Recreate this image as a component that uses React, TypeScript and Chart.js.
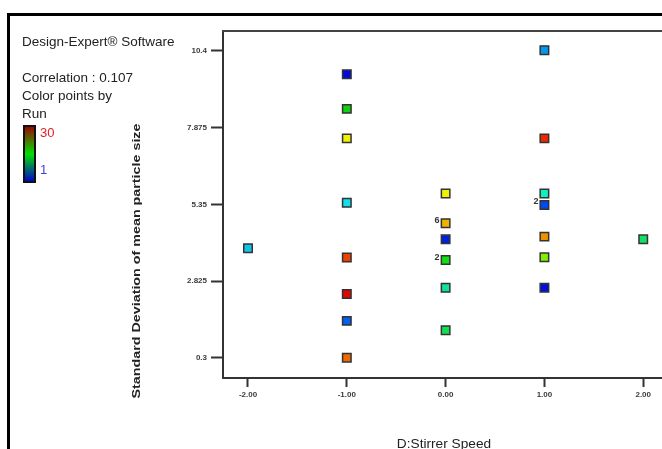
import React, { useEffect, useRef } from "react";
import { Chart, registerables } from "chart.js";

Chart.register(...registerables);

// ---- data ----
const xValues = [-2, -1, -1, -1, -1, -1, -1, -1, -1, 0, 0, 0, 0, 0, 0, 1, 1, 1, 1, 1, 1, 1, 2];
const yValues = [3.91, 9.63, 8.49, 7.52, 5.4, 3.6, 2.4, 1.52, 0.31, 5.71, 4.73, 4.2, 3.52, 2.61, 1.21, 10.42, 7.52, 5.71, 5.33, 4.29, 3.61, 2.61, 4.2];
const pointLabels = ["", "", "", "", "", "", "", "", "", "", "6", "", "2", "", "", "", "", "", "2", "", "", "", ""];
const pointColors = [
  "#10c4e8",
  "#0008e0", "#10d010", "#f0f000", "#10e0f0", "#f04000", "#e00800", "#0060f0", "#f06800",
  "#f0f000", "#f0b400", "#0020e0", "#10e010", "#10e0a0", "#10e050",
  "#0098f0", "#f02800", "#10f0c0", "#0048f0", "#f09000", "#80f000", "#0010e0",
  "#10e068",
];
const xTicks = [-2, -1, 0, 1, 2];
const xTickLabels = ["-2.00", "-1.00", "0.00", "1.00", "2.00"];
const yTicks = [0.3, 2.825, 5.35, 7.875, 10.4];
const yTickLabels = ["0.3", "2.825", "5.35", "7.875", "10.4"];
const xTitle = "D:Stirrer Speed";
const yTitle = "Standard Deviation of mean particle size";
const infoLines = ["Correlation : 0.107", "Color points by", "Run"];
const softwareLabel = "Design-Expert\u00AE Software";
const runMax = "30";
const runMin = "1";

const FONT = '"Liberation Sans", Arial, sans-serif';

const decorPlugin = {
  id: "decor",
  beforeDraw(chart: any) {
    const ctx = chart.ctx;
    ctx.save();
    ctx.fillStyle = "#ffffff";
    ctx.fillRect(0, 0, chart.width, chart.height);
    ctx.strokeStyle = "#000";
    ctx.lineWidth = 3;
    ctx.beginPath();
    ctx.moveTo(8.5, chart.height);
    ctx.lineTo(8.5, 14.5);
    ctx.lineTo(chart.width, 14.5);
    ctx.stroke();
    ctx.restore();
  },
  afterDraw(chart: any) {
    const ctx = chart.ctx;
    const area = chart.chartArea;
    ctx.save();
    ctx.strokeStyle = "#444";
    ctx.lineWidth = 2;
    ctx.beginPath();
    ctx.moveTo(area.left - 1, area.top);
    ctx.lineTo(chart.width, area.top);
    ctx.stroke();

    // left info text
    ctx.fillStyle = "#222";
    ctx.font = "13.5px " + FONT;
    ctx.textAlign = "left";
    ctx.textBaseline = "alphabetic";
    ctx.fillText(softwareLabel, 22, 46);
    infoLines.forEach((t, i) => ctx.fillText(t, 22, 82 + i * 18));

    // color bar
    const g = ctx.createLinearGradient(0, 126, 0, 182);
    g.addColorStop(0, "#a00000");
    g.addColorStop(0.5, "#00e000");
    g.addColorStop(1, "#0000d0");
    ctx.fillStyle = g;
    ctx.fillRect(24, 126, 11, 56);
    ctx.strokeStyle = "#111";
    ctx.lineWidth = 2;
    ctx.strokeRect(24, 126, 11, 56);
    ctx.font = "13px " + FONT;
    ctx.fillStyle = "#e02020";
    ctx.fillText(runMax, 40, 137);
    ctx.fillStyle = "#4040e0";
    ctx.fillText(runMin, 40, 174);

    // point count labels
    const xs = chart.scales.x;
    const ys = chart.scales.y;
    ctx.fillStyle = "#333";
    ctx.font = "bold 9px " + FONT;
    ctx.textAlign = "right";
    ctx.textBaseline = "middle";
    pointLabels.forEach((lab, i) => {
      if (!lab) return;
      const px = xs.getPixelForValue(xValues[i]);
      const py = ys.getPixelForValue(yValues[i]);
      ctx.fillText(lab, px - 6, py - 3);
    });

    // axis titles
    ctx.fillStyle = "#222";
    ctx.textAlign = "center";
    ctx.textBaseline = "alphabetic";
    ctx.save();
    ctx.translate(444, 448);
    ctx.scale(1.14, 1);
    ctx.font = "12px " + FONT;
    ctx.fillText(xTitle, 0, 0);
    ctx.restore();

    ctx.save();
    ctx.translate(137, 261);
    ctx.rotate(-Math.PI / 2);
    ctx.scale(1.3, 1);
    ctx.textBaseline = "middle";
    ctx.font = "bold 11px " + FONT;
    ctx.fillText(yTitle, 0, 0);
    ctx.restore();
    ctx.restore();
  },
};

export default function App() {
  const ref = useRef<HTMLCanvasElement>(null);
  useEffect(() => {
    if (!ref.current) return;
    const chart = new Chart(ref.current, {
      type: "scatter",
      data: {
        datasets: [
          {
            data: xValues.map((x, i) => ({ x, y: yValues[i] })),
            backgroundColor: pointColors,
            borderColor: "#333",
            borderWidth: 1.5,
            pointStyle: "rect",
            pointRadius: 6,
            clip: false,
          },
        ],
      },
      options: {
        responsive: false,
        animation: false,
        events: [],
        layout: { autoPadding: false, padding: { top: 31, left: 0, right: 0, bottom: 0 } },
        plugins: { legend: { display: false }, tooltip: { enabled: false } },
        scales: {
          x: {
            type: "linear",
            min: -2.253,
            max: 2.19,
            afterFit: (s: any) => {
              s.height = 71;
              s.paddingLeft = 0;
              s.paddingRight = 0;
            },
            afterBuildTicks: (s: any) => {
              s.ticks = xTicks.map((v) => ({ value: v }));
            },
            ticks: {
              autoSkip: false,
              maxRotation: 0,
              padding: 3,
              color: "#3a3a3a",
              font: { family: FONT, size: 8, weight: "bold" },
              callback: (v: any) => xTickLabels[xTicks.indexOf(Number(v))] ?? "",
            },
            grid: { drawOnChartArea: false, drawTicks: true, tickLength: 9, tickWidth: 2, tickColor: "#333" },
            border: { display: true, color: "#333", width: 2 },
          },
          y: {
            type: "linear",
            min: -0.358,
            max: 11.05,
            afterFit: (s: any) => {
              s.width = 223;
              s.paddingTop = 0;
              s.paddingBottom = 0;
            },
            afterBuildTicks: (s: any) => {
              s.ticks = yTicks.map((v) => ({ value: v }));
            },
            ticks: {
              autoSkip: false,
              padding: 4,
              color: "#3a3a3a",
              font: { family: FONT, size: 8, weight: "bold" },
              callback: (v: any) => {
                const idx = yTicks.findIndex((t) => Math.abs(t - Number(v)) < 1e-6);
                return idx >= 0 ? yTickLabels[idx] : "";
              },
            },
            grid: { drawOnChartArea: false, drawTicks: true, tickLength: 12, tickWidth: 2, tickColor: "#333" },
            border: { display: true, color: "#333", width: 2 },
          },
        },
      },
      plugins: [decorPlugin],
    } as any);
    return () => chart.destroy();
  }, []);
  return (
    <div style={{ position: "absolute", left: 0, top: 0, width: 662, height: 449, background: "#fff" }}>
      <canvas ref={ref} width={662} height={449} style={{ display: "block", width: 662, height: 449 }} />
    </div>
  );
}
